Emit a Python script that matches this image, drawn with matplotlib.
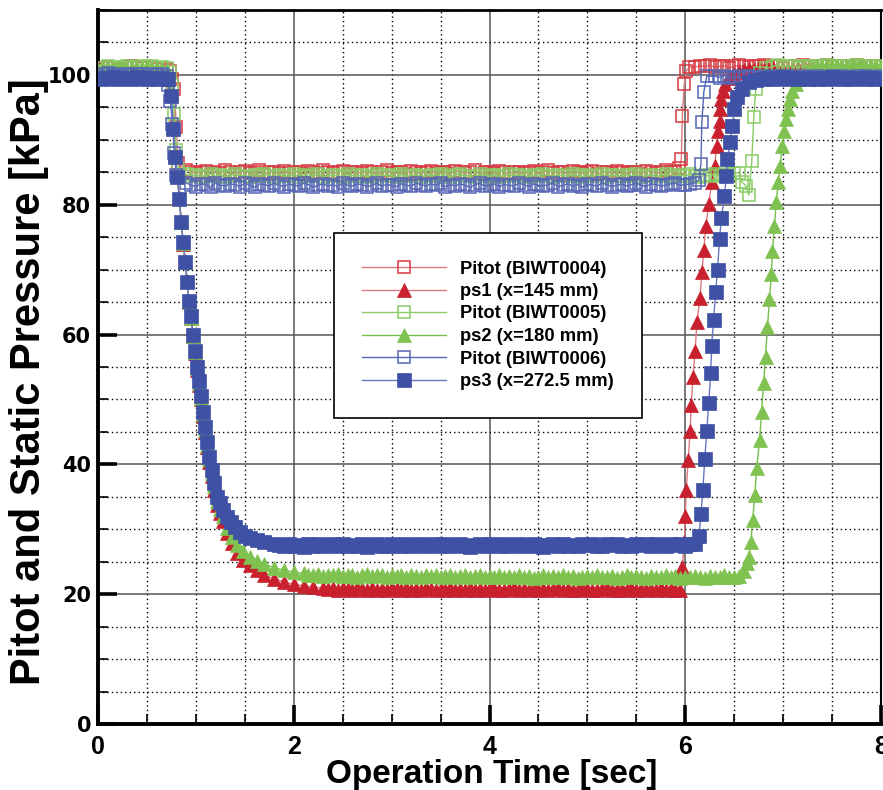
import matplotlib
matplotlib.use('Agg')
import matplotlib.pyplot as plt
from matplotlib.ticker import MultipleLocator

# ---------------- data ----------------
# common sampling instants [s] used by the quasi-steady parts of every record
TIME = [0.00, 0.05, 0.10, 0.15, 0.20, 0.25, 0.30, 0.35, 0.40, 0.45, 0.50, 0.55, 0.60, 0.65, 0.70, 0.75, 0.80, 0.85, 0.90, 0.95,
        1.00, 1.05, 1.10, 1.15, 1.20, 1.25, 1.30, 1.35, 1.40, 1.45, 1.50, 1.55, 1.60, 1.65, 1.70, 1.75, 1.80, 1.85, 1.90, 1.95,
        2.00, 2.05, 2.10, 2.15, 2.20, 2.25, 2.30, 2.35, 2.40, 2.45, 2.50, 2.55, 2.60, 2.65, 2.70, 2.75, 2.80, 2.85, 2.90, 2.95,
        3.00, 3.05, 3.10, 3.15, 3.20, 3.25, 3.30, 3.35, 3.40, 3.45, 3.50, 3.55, 3.60, 3.65, 3.70, 3.75, 3.80, 3.85, 3.90, 3.95,
        4.00, 4.05, 4.10, 4.15, 4.20, 4.25, 4.30, 4.35, 4.40, 4.45, 4.50, 4.55, 4.60, 4.65, 4.70, 4.75, 4.80, 4.85, 4.90, 4.95,
        5.00, 5.05, 5.10, 5.15, 5.20, 5.25, 5.30, 5.35, 5.40, 5.45, 5.50, 5.55, 5.60, 5.65, 5.70, 5.75, 5.80, 5.85, 5.90, 5.95,
        6.00, 6.05, 6.10, 6.15, 6.20, 6.25, 6.30, 6.35, 6.40, 6.45, 6.50, 6.55, 6.60, 6.65, 6.70, 6.75, 6.80, 6.85, 6.90, 6.95,
        7.00, 7.05, 7.10, 7.15, 7.20, 7.25, 7.30, 7.35, 7.40, 7.45, 7.50, 7.55, 7.60, 7.65, 7.70, 7.75, 7.80, 7.85, 7.90, 7.95,
        8.00]

# ---- Pitot (BIWT0004) ----
R0_START = [100.8, 101.0, 101.2, 101.1, 100.9, 101.0, 101.2, 101.3, 101.1, 101.0, 101.2, 101.1, 100.9, 101.1, 100.9]
R0_DROP_T = [0.74, 0.76, 0.78, 0.80, 0.82]
R0_DROP_P = [100.6, 99.4, 97.8, 92.0, 86.5]
R0_MID = [85.3, 85.1, 84.9, 85.0, 85.2, 84.8, 85.1, 84.9, 85.3, 85.0,
          84.8, 85.1, 85.2, 84.9, 85.0, 85.3, 84.8, 85.0, 85.1, 84.9,
          85.2, 84.9, 85.0, 85.1, 84.8, 85.2, 85.0, 84.9, 85.3, 85.1,
          84.9, 85.0, 85.2, 84.8, 85.1, 85.0, 84.9, 85.2, 85.1, 84.8,
          85.0, 85.3, 84.9, 85.1, 85.0, 84.8, 85.2, 85.0, 84.9, 85.1,
          85.2, 84.9, 85.1, 85.0, 84.8, 85.2, 85.1, 84.9, 85.0, 85.3,
          84.8, 85.0, 85.1, 84.9, 85.2, 85.0, 84.8, 85.1, 85.0, 84.9,
          85.1, 85.2, 84.9, 85.0, 85.3, 84.9, 85.1, 85.0, 84.8, 85.2,
          85.0, 84.9, 85.1, 85.2, 84.8, 85.0, 85.1, 84.9, 85.2, 85.0,
          84.9, 85.1, 85.0, 84.8, 85.2, 85.1, 84.9, 85.0, 85.3, 85.1,
          85.0]
R0_RISE_T = [5.94, 5.96, 5.97, 5.99, 6.01, 6.04]
R0_RISE_P = [85.6, 87.0, 93.7, 98.6, 100.6, 101.2]
R0_END = [101.2, 101.4, 101.3, 101.5, 101.2, 101.3, 101.4, 101.1, 101.3, 101.5,
          101.3, 101.2, 101.4, 101.3, 101.5, 101.2, 101.4, 101.3, 101.1, 101.3,
          101.4, 101.2, 101.5, 101.3, 101.2, 101.4, 101.3, 101.5, 101.2, 101.3,
          101.4, 101.2, 101.3, 101.5, 101.3, 101.2, 101.4, 101.3, 101.2]

# ---- ps1 (x=145 mm) ----
R1_START = [100.3, 100.5, 100.7, 100.6, 100.8, 100.5, 100.7, 100.9, 100.6, 100.8, 100.5, 100.7, 100.6, 100.4, 100.5]
R1_DROP_T = [0.72, 0.75, 0.77, 0.79, 0.81, 0.83, 0.85, 0.87, 0.89, 0.91,
             0.93, 0.95, 0.97, 0.99, 1.01, 1.03, 1.05, 1.07, 1.09, 1.11,
             1.13, 1.16, 1.19, 1.22, 1.25, 1.28,
             1.32, 1.37, 1.42, 1.48, 1.55, 1.62, 1.70, 1.80, 1.90, 2.00, 2.10, 2.20]
R1_DROP_P = [99.8, 97.4, 92.2, 87.8, 84.6, 81.2, 77.5, 74.0, 71.4, 68.3,
             65.0, 62.5, 59.7, 57.2, 54.6, 52.3, 50.0, 47.4, 45.0, 42.6,
             40.4, 38.2, 36.0, 33.8, 32.5, 31.2,
             29.5, 27.9, 26.3, 25.3, 24.5, 23.7, 23.0, 22.4, 21.9, 21.5, 21.3, 21.1]
R1_MID = [20.9, 20.8, 21.0, 20.7, 20.9, 20.8, 20.6, 20.9, 20.8, 20.7,
          20.9, 20.7, 20.8, 20.6, 20.9, 20.8, 20.7, 20.9, 20.6, 20.8,
          20.7, 20.9, 20.8, 20.6, 20.8, 20.7, 20.9, 20.6, 20.8, 20.7,
          20.9, 20.6, 20.8, 20.7, 20.9, 20.8, 20.7, 20.6, 20.8, 20.9,
          20.7, 20.8, 20.6, 20.9, 20.7, 20.8, 20.6, 20.8, 20.9, 20.7,
          20.8, 20.6, 20.7, 20.9, 20.8, 20.6, 20.7, 20.8, 20.9, 20.7,
          20.6, 20.8, 20.7, 20.9, 20.6, 20.8, 20.7, 20.8, 20.6, 20.9,
          20.7, 20.8, 20.7]
R1_RISE_T = [5.95, 5.97, 5.99, 6.00, 6.01, 6.03, 6.05, 6.06, 6.08, 6.10,
             6.12, 6.15, 6.17, 6.19, 6.21, 6.24, 6.27, 6.30, 6.32, 6.33,
             6.35, 6.36, 6.37, 6.39, 6.41, 6.45, 6.50, 6.55]
R1_RISE_P = [20.7, 24.2, 28.0, 32.0, 36.1, 40.7, 45.1, 49.2, 53.5, 57.4,
             61.9, 65.7, 69.6, 73.1, 76.7, 80.1, 83.5, 86.0, 89.0, 91.4,
             92.9, 94.8, 96.3, 97.5, 98.6, 99.6, 100.2, 100.5]
R1_END = [100.7, 100.9, 100.8, 101.0, 100.8, 100.9, 101.0, 100.8, 100.9, 100.7,
          100.9, 101.0, 100.8, 100.9, 100.8, 101.0, 100.9, 100.7, 100.9, 100.8,
          101.0, 100.9, 100.8, 100.9, 101.0, 100.8, 100.9, 100.7, 100.9]

# ---- Pitot (BIWT0005) ----
G0_START = [100.6, 101.0, 101.3, 101.1, 101.2, 101.0, 101.3, 101.1, 101.2, 101.4, 101.1, 101.3, 101.0, 101.2, 101.1]
G0_DROP_T = [0.74, 0.76, 0.78, 0.80, 0.82]
G0_DROP_P = [100.5, 98.5, 94.0, 88.5, 85.5]
G0_MID = [84.7, 84.4, 84.6, 84.3, 84.5, 84.8, 84.4, 84.6, 84.3, 84.5,
          84.7, 84.4, 84.5, 84.3, 84.6, 84.4, 84.7, 84.5, 84.3, 84.6,
          84.4, 84.5, 84.7, 84.3, 84.6, 84.4, 84.5, 84.8, 84.3, 84.5,
          84.6, 84.4, 84.3, 84.7, 84.5, 84.4, 84.6, 84.3, 84.5, 84.7,
          84.4, 84.6, 84.5, 84.3, 84.7, 84.4, 84.5, 84.6, 84.3, 84.5,
          84.6, 84.4, 84.7, 84.5, 84.3, 84.6, 84.8, 84.4, 84.5, 84.3,
          84.7, 84.5, 84.4, 84.6, 84.3, 84.5, 84.7, 84.4, 84.6, 84.5,
          84.3, 84.6, 84.4, 84.7, 84.5, 84.3, 84.6, 84.5, 84.4, 84.7,
          84.5, 84.3, 84.6, 84.4, 84.5, 84.7, 84.3, 84.6, 84.4, 84.5,
          84.6, 84.4, 84.7, 84.3, 84.5, 84.6, 84.4, 84.5, 84.7, 84.3,
          84.5, 84.6, 84.4, 84.7, 84.5, 84.3, 84.6, 84.4, 84.8, 84.5,
          84.6, 84.7, 84.9]
G0_RISE_T = [6.55, 6.58, 6.62, 6.65, 6.68, 6.70, 6.72, 6.76, 6.82]
G0_RISE_P = [84.9, 83.5, 82.9, 81.5, 86.7, 93.5, 97.8, 100.3, 101.0]
G0_END = [101.3, 101.5, 101.2, 101.4, 101.3, 101.1, 101.4, 101.3, 101.2, 101.4,
          101.3, 101.5, 101.2, 101.3, 101.4, 101.2, 101.3, 101.5, 101.3, 101.2,
          101.4, 101.3, 101.2]

# ---- ps2 (x=180 mm) ----
G1_START = [100.8, 101.1, 101.0, 100.9, 101.2, 101.0, 100.8, 101.1, 100.9, 101.0, 101.2, 100.9, 101.0, 100.8, 100.7]
G1_DROP_T = [0.72, 0.75, 0.77, 0.79, 0.81, 0.83, 0.85, 0.87, 0.89, 0.91,
             0.93, 0.95, 0.97, 0.99, 1.01, 1.03, 1.05, 1.07, 1.09, 1.11,
             1.13, 1.16, 1.19, 1.22, 1.25, 1.28,
             1.32, 1.37, 1.42, 1.48, 1.55, 1.62, 1.70, 1.80, 1.90, 2.00]
G1_DROP_P = [99.7, 97.2, 92.0, 87.6, 84.5, 81.0, 77.4, 74.1, 71.2, 68.2,
             65.0, 62.6, 59.8, 57.3, 54.8, 52.5, 50.2, 47.7, 45.3, 43.0,
             40.8, 38.7, 36.6, 34.4, 33.2, 32.0,
             30.2, 28.8, 27.6, 26.6, 25.8, 25.1, 24.6, 24.1, 23.7, 23.4]
G1_MID = [23.2, 23.0, 22.9, 23.1, 22.8, 23.0, 22.9, 23.1, 22.8, 22.9,
          23.0, 22.7, 22.9, 23.1, 22.8, 22.9, 23.0, 22.7, 22.9, 22.8,
          23.0, 22.7, 22.9, 22.8, 22.6, 22.9, 22.8, 23.0, 22.7, 22.8,
          22.9, 22.6, 22.8, 23.0, 22.7, 22.8, 22.9, 22.6, 22.8, 22.7,
          22.9, 22.7, 22.8, 22.6, 22.9, 22.7, 22.8, 22.5, 22.7, 22.9,
          22.6, 22.8, 22.7, 22.9, 22.6, 22.8, 22.5, 22.7, 22.8, 22.6,
          22.9, 22.7, 22.6, 22.8, 22.5, 22.7, 22.9, 22.6, 22.8, 22.7,
          22.5, 22.8, 22.6, 22.7, 22.9, 22.6, 22.8, 22.5, 22.7, 22.6,
          22.8, 22.7, 22.5, 22.8, 22.6, 22.7, 22.9, 22.6, 22.7]
G1_RISE_T = [6.55, 6.60, 6.63, 6.65, 6.67, 6.69, 6.71, 6.73, 6.76, 6.78,
             6.80, 6.82, 6.84, 6.86, 6.88, 6.89, 6.91, 6.93, 6.95, 6.97,
             6.99, 7.01, 7.03, 7.05, 7.07, 7.09, 7.13, 7.17, 7.24]
G1_RISE_P = [22.8, 23.5, 24.8, 25.8, 28.1, 31.5, 35.3, 39.5, 43.8, 48.1,
             52.6, 56.6, 61.1, 65.4, 69.3, 72.8, 76.7, 80.4, 83.5, 86.0,
             89.0, 91.4, 93.2, 94.8, 96.3, 97.5, 98.6, 99.8, 100.6]
G1_END = [101.1, 101.3, 101.2, 101.4, 101.2, 101.3, 101.1, 101.3, 101.4, 101.2,
          101.3, 101.1, 101.3, 101.2, 101.4]

# ---- Pitot (BIWT0006) ----
B0_START = [99.9, 100.1, 100.3, 100.0, 100.2, 99.9, 100.1, 100.0, 100.2, 100.1, 99.9, 100.2, 100.0, 100.1, 99.9]
B0_DROP_T = [0.72, 0.74, 0.76, 0.78, 0.80]
B0_DROP_P = [98.5, 96.0, 92.5, 88.0, 84.6]
B0_MID = [83.4, 83.0, 82.8, 83.2, 83.1, 82.7, 83.3, 83.0, 82.9, 83.2,
          83.1, 82.8, 83.3, 83.0, 82.7, 83.2, 83.1, 82.9, 83.3, 83.0,
          82.8, 83.2, 83.0, 82.9, 83.3, 83.1, 82.7, 83.0, 83.2, 82.9,
          83.1, 82.8, 83.3, 83.0, 82.9, 83.2, 83.1, 82.8, 83.0, 83.3,
          82.9, 83.1, 83.0, 82.8, 83.2, 83.0, 82.9, 83.3, 83.1, 82.9,
          83.2, 83.0, 83.3, 82.8, 83.1, 82.9, 83.2, 83.0, 82.7, 83.1,
          83.3, 82.9, 83.0, 83.2, 82.8, 83.1, 83.0, 82.9, 83.3, 83.1,
          82.8, 83.2, 83.0, 82.9, 83.1, 83.3, 82.8, 83.0, 83.2, 82.9,
          83.1, 82.7, 83.2, 83.0, 82.9, 83.3, 83.1, 82.8, 83.0, 83.2,
          82.9, 83.1, 83.3, 83.0, 82.8, 83.2, 83.1, 82.9, 83.0, 83.2,
          83.3, 83.0, 83.1, 83.2, 83.4]
B0_RISE_T = [6.14, 6.16, 6.17, 6.19, 6.22]
B0_RISE_P = [83.8, 86.3, 92.7, 97.4, 99.8]
B0_END = [99.8, 99.6, 99.9, 99.7, 99.5, 99.8, 99.6, 99.9, 99.7, 99.6,
          99.8, 99.5, 99.7, 99.9, 99.6, 99.8, 99.7, 99.6, 99.9, 99.7,
          99.5, 99.8, 99.6, 99.7, 99.9, 99.6, 99.8, 99.7, 99.5, 99.8,
          99.6, 99.9, 99.7, 99.6, 99.8]

# ---- ps3 (x=272.5 mm) ----
B1_START = [99.6, 99.4, 99.5, 99.7, 99.3, 99.5, 99.6, 99.4, 99.7, 99.5, 99.3, 99.6, 99.4, 99.5, 99.4]
B1_DROP_T = [0.72, 0.75, 0.77, 0.79, 0.81, 0.83, 0.85, 0.87, 0.89, 0.91,
             0.93, 0.95, 0.97, 0.99, 1.01, 1.03, 1.05, 1.07, 1.09, 1.11,
             1.13, 1.16, 1.19, 1.22, 1.25, 1.28,
             1.32, 1.36, 1.40, 1.45, 1.50, 1.55, 1.62, 1.70]
B1_DROP_P = [99.3, 96.8, 91.7, 87.3, 84.3, 80.9, 77.3, 74.2, 71.1, 68.1,
             65.1, 62.8, 60.0, 57.5, 55.0, 52.8, 50.5, 48.0, 45.7, 43.4,
             41.2, 39.2, 37.2, 35.0, 34.0, 33.0,
             31.9, 31.1, 30.3, 29.6, 29.0, 28.6, 28.3, 28.0]
B1_MID = [27.8, 27.6, 27.4, 27.7, 27.5, 27.6, 27.3, 27.7, 27.5, 27.8,
          27.4, 27.6, 27.7, 27.5, 27.8, 27.4, 27.6, 27.5, 27.7, 27.3,
          27.6, 27.8, 27.5, 27.4, 27.7, 27.6, 27.5, 27.8, 27.4, 27.6,
          27.7, 27.5, 27.6, 27.8, 27.4, 27.7, 27.5, 27.6, 27.8, 27.5,
          27.3, 27.6, 27.7, 27.5, 27.8, 27.6, 27.4, 27.7, 27.5, 27.6,
          27.8, 27.4, 27.6, 27.7, 27.5, 27.3, 27.6, 27.8, 27.5, 27.7,
          27.4, 27.6, 27.5, 27.8, 27.6, 27.7, 27.4, 27.5, 27.7, 27.6,
          27.8, 27.5, 27.6, 27.4, 27.7, 27.6, 27.8, 27.5, 27.7, 27.6,
          27.5, 27.8, 27.6, 27.7, 27.5, 27.8, 27.7]
B1_RISE_T = [6.14, 6.16, 6.18, 6.20, 6.22, 6.24, 6.26, 6.27, 6.29, 6.31,
             6.33, 6.35, 6.37, 6.40, 6.42, 6.43, 6.46, 6.48, 6.50, 6.53,
             6.58, 6.65, 6.72]
B1_RISE_P = [28.9, 32.3, 36.1, 40.9, 45.1, 49.5, 54.0, 58.2, 62.3, 66.5,
             70.0, 74.7, 78.0, 81.3, 84.5, 87.0, 89.7, 92.1, 94.8, 96.6,
             97.8, 98.9, 99.2]
B1_END = [99.4, 99.6, 99.3, 99.5, 99.7, 99.4, 99.5, 99.3, 99.6, 99.4,
          99.5, 99.3, 99.6, 99.4, 99.7, 99.5, 99.3, 99.6, 99.4, 99.5,
          99.6, 99.3, 99.5, 99.4, 99.6]

labels = ['Pitot (BIWT0004)', 'ps1 (x=145 mm)', 'Pitot (BIWT0005)',
          'ps2 (x=180 mm)', 'Pitot (BIWT0006)', 'ps3 (x=272.5 mm)']
x_ticks = [0, 2, 4, 6, 8]
y_ticks = [0, 20, 40, 60, 80, 100]


def seg(t0, t1):
    return [t for t in TIME if t0 - 1e-6 <= t <= t1 + 1e-6]


def build(parts):
    ts, ps = [], []
    for t, p in parts:
        assert len(t) == len(p), (len(t), len(p))
        ts += list(t)
        ps += list(p)
    return ts, ps


R0 = build([(seg(0.0, 0.7), R0_START), (R0_DROP_T, R0_DROP_P), (seg(0.9, 5.9), R0_MID),
            (R0_RISE_T, R0_RISE_P), (seg(6.1, 8.0), R0_END)])
R1 = build([(seg(0.0, 0.7), R1_START), (R1_DROP_T, R1_DROP_P), (seg(2.3, 5.9), R1_MID),
            (R1_RISE_T, R1_RISE_P), (seg(6.6, 8.0), R1_END)])
G0 = build([(seg(0.0, 0.7), G0_START), (G0_DROP_T, G0_DROP_P), (seg(0.9, 6.5), G0_MID),
            (G0_RISE_T, G0_RISE_P), (seg(6.9, 8.0), G0_END)])
G1 = build([(seg(0.0, 0.7), G1_START), (G1_DROP_T, G1_DROP_P), (seg(2.1, 6.5), G1_MID),
            (G1_RISE_T, G1_RISE_P), (seg(7.3, 8.0), G1_END)])
B0 = build([(seg(0.0, 0.7), B0_START), (B0_DROP_T, B0_DROP_P), (seg(0.9, 6.1), B0_MID),
            (B0_RISE_T, B0_RISE_P), (seg(6.3, 8.0), B0_END)])
B1 = build([(seg(0.0, 0.7), B1_START), (B1_DROP_T, B1_DROP_P), (seg(1.8, 6.1), B1_MID),
            (B1_RISE_T, B1_RISE_P), (seg(6.8, 8.0), B1_END)])

# ---------------- styling ----------------
RED = '#C8202C'
GREEN = '#7FC24F'
BLUE = '#3F51A5'

series = [
    (R0, dict(marker='s', ms=9, mfc='none', mec='#D63A42', mew=1.1, color='#E07A80')),
    (R1, dict(marker='^', ms=10, mfc=RED, mec=RED, mew=0.5, color='#E07A80')),
    (G0, dict(marker='s', ms=9, mfc='none', mec='#8ACB66', mew=1.1, color='#8ACB66')),
    (G1, dict(marker='^', ms=10, mfc=GREEN, mec=GREEN, mew=0.5, color='#76BE4A')),
    (B0, dict(marker='s', ms=9, mfc='none', mec='#5566B5', mew=1.1, color='#5566B5')),
    (B1, dict(marker='s', ms=9.5, mfc=BLUE, mec=BLUE, mew=0.5, color='#6677C0')),
]

fig = plt.figure(figsize=(8.83, 7.9), dpi=100)
ax = fig.add_axes([98 / 883, 66 / 790, (881 - 98) / 883, 714 / 790])

for ((t, p), st), lab in zip(series, labels):
    ax.plot(t, p, lw=1.0, label=lab, zorder=3, **st)

ax.set_xlim(0, 8)
ax.set_ylim(0, 110)
ax.set_xticks(x_ticks)
ax.set_yticks(y_ticks)
ax.xaxis.set_minor_locator(MultipleLocator(0.5))
ax.yaxis.set_minor_locator(MultipleLocator(5))

ax.set_axisbelow(True)
ax.grid(which='major', color='#555555', lw=1.1, ls='-')
ax.grid(which='minor', color='black', lw=1.0, ls=(0, (1, 2.2)))

ax.tick_params(which='major', direction='in', length=14, width=2.6,
               top=False, right=False)
ax.tick_params(which='minor', direction='in', length=7, width=1.2,
               top=False, right=False)
ax.tick_params(axis='y', which='major', pad=5)
ax.tick_params(axis='x', which='major', pad=8)

for lab in ax.get_yticklabels():
    lab.set_fontfamily('DejaVu Sans')
    lab.set_fontweight('bold')
    lab.set_fontsize(15)
for lab in ax.get_xticklabels():
    lab.set_fontfamily('Liberation Sans')
    lab.set_fontweight('bold')
    lab.set_fontsize(18)

ax.spines['left'].set_linewidth(2.8)
ax.spines['bottom'].set_linewidth(2.8)
ax.spines['top'].set_linewidth(2.0)
ax.spines['right'].set_linewidth(1.5)

fig.text(492 / 883, 1 - 774 / 790, 'Operation Time [sec]', ha='center', va='center',
         fontsize=24, fontweight='bold', family='Liberation Sans')
fig.text(29 / 883, 1 - 382 / 790, 'Pitot and Static Pressure [kPa]', ha='center',
         va='center', rotation=90, fontsize=30, fontweight='bold',
         family='Liberation Sans')

leg = ax.legend(loc='upper left', bbox_to_anchor=(334 / 883, 1 - 233 / 790),
                bbox_transform=fig.transFigure, borderaxespad=0,
                prop=dict(family='Liberation Sans', weight='bold', size=13.2),
                handlelength=4.6, handletextpad=0.8, labelspacing=0.3,
                borderpad=1.5, fancybox=False, framealpha=1.0,
                edgecolor='black')
leg.get_frame().set_linewidth(1.2)
leg.set_zorder(10)

fig.savefig('out.png', dpi=100)
